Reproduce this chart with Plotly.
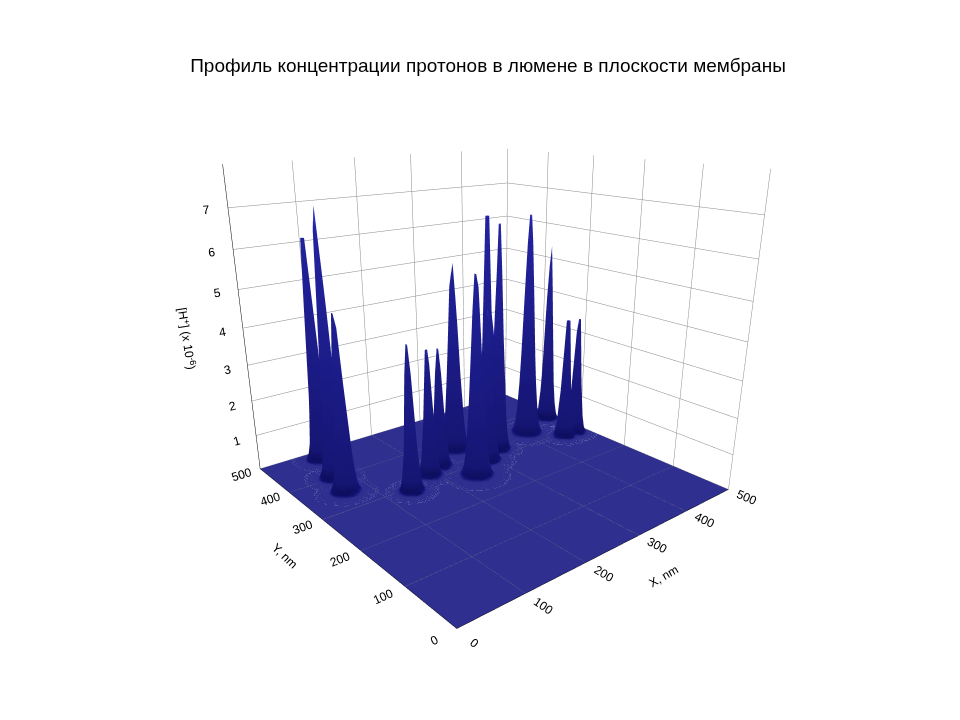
import numpy as np
import plotly.graph_objects as go

# peaks: position (nm), height (x 1e-6), width (nm)
peak_x = [90, 75, 65, 140, 190, 220, 275, 245, 318, 330, 290, 410, 480, 450, 475]
peak_y = [470, 400, 350, 290, 315, 330, 365, 270, 334, 320, 300, 340, 365, 290, 290]
peak_h = [6.7, 7.2, 5.0, 4.2, 3.8, 3.6, 5.5, 5.7, 7.4, 6.8, 4.5, 6.7, 5.5, 4.0, 3.8]
peak_w = [7, 7, 7, 6, 6, 6, 8, 8, 6, 6, 7, 8, 6, 6, 6]

grid = np.arange(0, 501, 4)
X, Y = np.meshgrid(grid, grid)
Z = np.zeros_like(X, dtype=float)
for px_, py_, ph, pw in zip(peak_x, peak_y, peak_h, peak_w):
    Z = np.maximum(Z, ph * np.exp(-((X - px_) ** 2 + (Y - py_) ** 2) / (2 * pw ** 2)))

fig = go.Figure(
    go.Surface(
        x=grid, y=grid, z=Z,
        colorscale=[[0, "#0e0e6e"], [0.05, "#1c1c9a"], [0.6, "#2828c0"], [1, "#3030d8"]],
        showscale=False,
        lighting=dict(ambient=0.75, diffuse=0.5, specular=0.2, roughness=0.7),
        contours=dict(x=dict(show=False), y=dict(show=False)),
    )
)

axis_common = dict(
    showbackground=False, gridcolor="#888", gridwidth=1, linecolor="black",
    showline=True, tickfont=dict(size=12, color="black", family="Liberation Sans"),
    zeroline=False,
)
fig.update_layout(
    width=960, height=720,
    paper_bgcolor="white",
    title=dict(text="Профиль концентрации протонов в люмене в плоскости мембраны",
               x=0.5, y=0.93, font=dict(size=19, color="black", family="Liberation Sans")),
    margin=dict(l=0, r=0, t=80, b=0),
    scene=dict(
        xaxis=dict(axis_common, title=dict(text="X, nm", font=dict(size=12, color="black")), range=[0, 500],
                   tickvals=[0, 100, 200, 300, 400, 500]),
        yaxis=dict(axis_common, title=dict(text="Y, nm", font=dict(size=12, color="black")), range=[0, 500],
                   tickvals=[0, 100, 200, 300, 400, 500]),
        zaxis=dict(axis_common, title=dict(text="[H<sup>+</sup>] (x 10<sup>-6</sup>)", font=dict(size=12, color="black")),
                   range=[0, 8], tickvals=[0, 1, 2, 3, 4, 5, 6, 7]),
        aspectmode="manual", aspectratio=dict(x=1, y=1, z=0.9),
        camera=dict(eye=dict(x=-1.32, y=-1.6, z=0.62), center=dict(x=0, y=0, z=-0.22)),
    ),
    font=dict(family="Liberation Sans"),
)
fig.write_html("out.html")
